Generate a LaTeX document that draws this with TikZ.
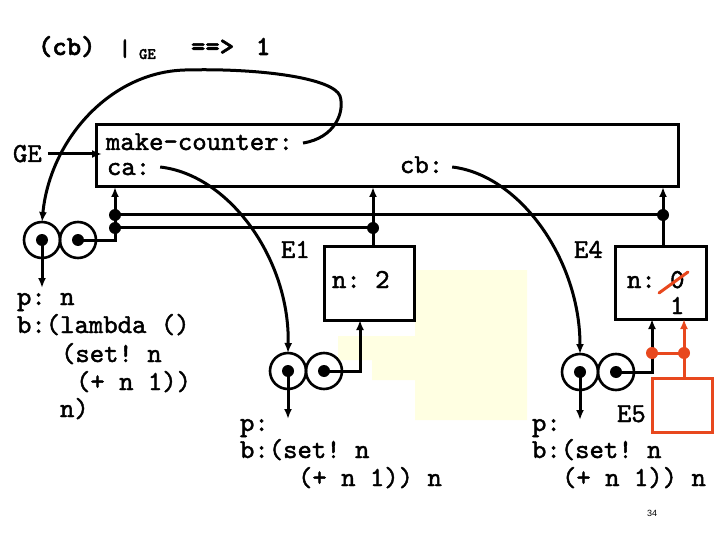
\documentclass[tikz,border=0pt]{standalone}
\usepackage{fontspec}
\setmainfont{Liberation Sans}
\setmonofont[FakeBold=1.6]{lmmono10-regular.otf}
\newfontfamily\titlefont[FakeBold=2]{lmmonolt10-bold.otf}
\usetikzlibrary{arrows.meta}
\definecolor{ored}{RGB}{232,72,30}
\definecolor{pale}{RGB}{255,255,226}
\begin{document}
\begin{tikzpicture}[x=1pt,y=-1pt,
  every node/.style={inner sep=0pt, outer sep=0pt},
  txt/.style={anchor=base west, font=\ttfamily\fontsize{27.4}{28}\selectfont},
  btxt/.style={anchor=base west, font=\titlefont\fontsize{27.4}{28}\selectfont},
  box/.style={draw, line width=3pt, rectangle},
  circ/.style={circle, draw, line width=2.6pt, minimum size=36pt},
  dot/.style={circle, fill, minimum size=12pt},
  odot/.style={circle, fill=ored, minimum size=12pt},
  wire/.style={line width=3pt},
  arr/.style={wire, -{Latex[length=10pt,width=8pt]}},
]
\useasboundingbox (0,0) rectangle (720,540);
% faint background patch
\fill[pale] (338,336) -- (415,336) -- (415,270) -- (527,270) -- (527,420) -- (415,420) -- (415,380) -- (372,380) -- (372,360) -- (338,360) -- cycle;

% title
\node[btxt] (t1) at (38,55) {(cb)};
\node[anchor=base, font=\titlefont\fontsize{24}{24}\selectfont] (bar) at (125,56) {|};
\node[anchor=base west, font=\titlefont\fontsize{16}{16}\selectfont] (sub) at (139,59) {GE};
\node[btxt] (t2) at (191,55) {==>};
\node[btxt] (t3) at (256,55) {1};

% global environment
\node[box, minimum width=582pt, minimum height=62pt] (main) at (387,156) {};
\node[txt] (mc) at (106,150) {make-counter:};
\node[txt] (ca) at (107,175) {ca:};
\node[txt] (cb) at (400,173) {cb:};
\node[txt] (GE) at (13,162) {GE};
\draw[arr] ([xshift=6pt,yshift=8pt]GE.base east) -- ([xshift=6pt,yshift=8pt]GE.base east -| main.west);

% left procedure object
\node[circ] (L1) at (42,240) {};
\node[circ] (L2) at (78,240) {};
\node[dot] at (L1.center) {};
\node[dot] at (L2.center) {};
\node[dot] (d1) at (115,215) {};
\node[dot] (d2) at (115,228) {};
\draw[arr] (L2.center) -| (d2.center) -- (d1.center) -- (d1 |- main.south);
\coordinate (L1p) at (42,288);
\draw[arr] (L1.center) -- (L1p);
\node[txt] (l1) at (17,305) {p: n};
\node[txt] (l2) at (17,333) {b:(lambda ()};
\node[txt] (l3) at (61,362) {(set! n};
\node[txt] (l4) at (76,390) {(+ n 1))};
\node[txt] (l5) at (60,417) {n)};

% E1
\node[box, minimum width=90pt, minimum height=74pt] (E1) at (369,283) {};
\node[txt] (E1l) at (281,258) {E1};
\node[txt] (E1n) at (332,288) {n: 2};
\node[dot] (d3) at ([xshift=4pt]E1.north |- d2) {};
\draw[wire] (d2.center) -- (d3.center);
\draw[arr] ([xshift=4pt]E1.north) -- ([xshift=4pt]E1.north |- main.south);
\node[circ] (E1a) at (288,371) {};
\node[circ] (E1b) at (324,371) {};
\node[dot] at (E1a.center) {};
\node[dot] at (E1b.center) {};
\draw[arr] (E1b.center) -| ([xshift=-9pt]E1.south);
\coordinate (E1p) at (288,419);
\draw[arr] (E1a.center) -- (E1p);
\node[txt] (e11) at (240,431) {p:};
\node[txt] (e12) at (240,458) {b:(set! n};
\node[txt] (e13) at (298,486) {(+ n 1)) n};

% E4
\node[box, minimum width=91pt, minimum height=73pt] (E4) at (660.5,282.5) {};
\node[txt] (E4l) at (574,258) {E4};
\node[txt] (E4n) at (627,288) {n: 0};
\node[txt] (E4m) at (670,314) {1};
\draw[ored, line width=3pt, line cap=round] (659,293) -- (688,272);
\node[dot] (d4) at ([xshift=2.5pt]E4.north |- d1) {};
\draw[wire] (d1.center) -- (d4.center);
\draw[arr] ([xshift=2.5pt]E4.north) -- ([xshift=2.5pt]E4.north |- main.south);
\node[circ] (E4a) at (580,372) {};
\node[circ] (E4b) at (616,372) {};
\node[dot] at (E4a.center) {};
\node[dot] at (E4b.center) {};
\draw[arr] (E4b.center) -| ([xshift=-8.5pt]E4.south);
\coordinate (E4p) at (580,420);
\draw[arr] (E4a.center) -- (E4p);
\node[txt] (e41) at (532,431) {p:};
\node[txt] (e42) at (532,458) {b:(set! n};
\node[txt] (e43) at (562,486) {(+ n 1)) n};

% E5 (orange)
\node[box, draw=ored, minimum width=60pt, minimum height=54pt] (E5) at (682,405) {};
\node[txt] (E5l) at (617,422) {E5};
\node[odot] (o1) at ([xshift=-8.5pt]E4.south |- 0,353) {};
\node[odot] (o2) at ([xshift=2pt]E5.north |- 0,353) {};
\draw[wire, ored] (o1.center) -- (o2.center);
\draw[arr, ored] ([xshift=2pt]E5.north) -- ([xshift=2pt]E5.north |- E4.south);

% curves from bindings
\draw[arr] ([xshift=10pt,yshift=7pt]mc.base east) .. controls (335,138) and (345,112) .. (340,96)
   .. controls (333,78) and (260,68) .. (185,70)
   .. controls (110,72) and (50,140) .. (L1.north);
\draw[arr] ([xshift=10pt,yshift=8pt]ca.base east) .. controls (230,175) and (290,260) .. (E1a.north);
\draw[arr] ([xshift=9pt,yshift=6pt]cb.base east) .. controls (520,175) and (580,260) .. (E4a.north);

% page number
\node[font=\fontsize{9}{10}\selectfont] (pg) at (652,513) {34};
\end{tikzpicture}
\end{document}
